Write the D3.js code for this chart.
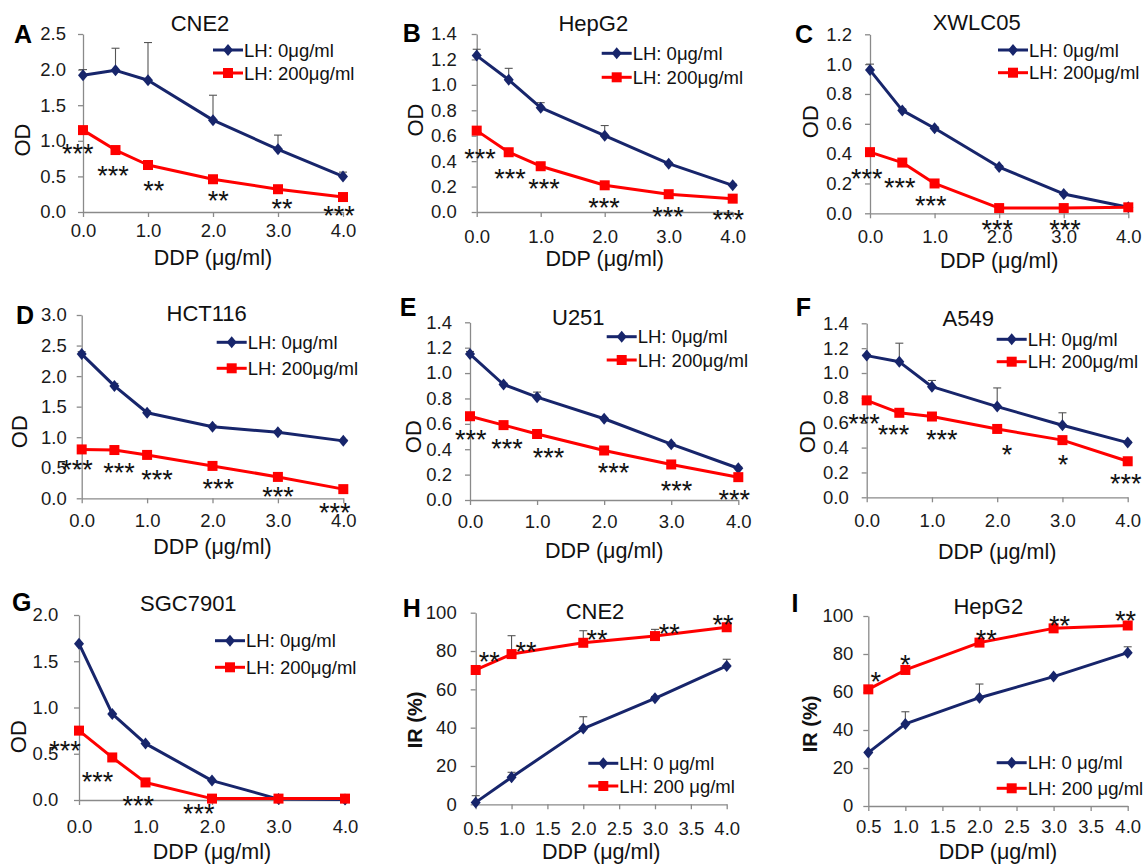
<!DOCTYPE html>
<html>
<head>
<meta charset="utf-8">
<script src="https://cdn.jsdelivr.net/npm/d3@7"></script>
<style>
  body { margin: 0; background: #fff; }
  svg { display: block; font-family: "Liberation Sans", Arial, sans-serif; }
</style>
</head>
<body>
<svg id="chart" width="1145" height="866"></svg>
<script>
// ---- data ----
const doseOD = [0, 0.5, 1, 2, 3, 4];
const doseIR = [0.5, 1, 2, 3, 4];

// A: CNE2 (OD)
const cne2Lh0 = [1.92, 1.99, 1.85, 1.29, 0.88, 0.50];
const cne2Lh0Err = [0.08, 0.31, 0.53, 0.35, 0.20, 0.06];
const cne2Lh200 = [1.15, 0.87, 0.66, 0.46, 0.32, 0.21];
const cne2Stars = ["***", "***", "**", "**", "**", "***"];
const cne2StarX = [-0.08, 0.46, 1.09, 2.08, 3.06, 3.94];
const cne2StarY = [0.91, 0.59, 0.39, 0.24, 0.13, 0.03];

// B: HepG2 (OD)
const hepg2Lh0 = [1.23, 1.04, 0.82, 0.60, 0.38, 0.21];
const hepg2Lh0Err = [0.05, 0.09, 0.04, 0.08, 0.01, 0.01];
const hepg2Lh200 = [0.64, 0.47, 0.36, 0.21, 0.14, 0.105];
const hepg2Stars = ["***", "***", "***", "***", "***", "***"];
const hepg2StarX = [0.05, 0.52, 1.05, 1.99, 2.99, 3.93];
const hepg2StarY = [0.47, 0.31, 0.23, 0.08, 0.01, -0.01];

// C: XWLC05 (OD)
const xwlcLh0 = [0.96, 0.69, 0.57, 0.31, 0.13, 0.04];
const xwlcLh0Err = [0.04, 0.01, 0.01, 0.01, 0.01, 0];
const xwlcLh200 = [0.41, 0.34, 0.20, 0.035, 0.035, 0.04];
const xwlcStars = ["***", "***", "***", "***", "***"];
const xwlcStarX = [-0.05, 0.46, 0.94, 1.97, 3.02];
const xwlcStarY = [0.27, 0.21, 0.09, -0.07, -0.07];

// D: HCT116 (OD)
const hctLh0 = [2.36, 1.84, 1.40, 1.17, 1.08, 0.94];
const hctLh0Err = [0.04, 0.04, 0.03, 0.03, 0.03, 0.02];
const hctLh200 = [0.80, 0.79, 0.71, 0.53, 0.35, 0.15];
const hctStars = ["***", "***", "***", "***", "***", "***"];
const hctStarX = [-0.07, 0.57, 1.15, 2.09, 3.0, 3.87];
const hctStarY = [0.57, 0.52, 0.41, 0.26, 0.12, -0.13];

// E: U251 (OD)
const u251Lh0 = [1.15, 0.91, 0.81, 0.64, 0.44, 0.25];
const u251Lh0Err = [0.02, 0.01, 0.04, 0.01, 0.01, 0.01];
const u251Lh200 = [0.66, 0.59, 0.52, 0.39, 0.28, 0.18];
const u251Stars = ["***", "***", "***", "***", "***", "***"];
const u251StarX = [0.01, 0.55, 1.17, 2.14, 3.08, 3.94];
const u251StarY = [0.52, 0.45, 0.38, 0.26, 0.12, 0.05];

// F: A549 (OD)
const a549Lh0 = [1.14, 1.09, 0.89, 0.73, 0.58, 0.44];
const a549Lh0Err = [0.01, 0.15, 0.05, 0.15, 0.10, 0.01];
const a549Lh200 = [0.78, 0.68, 0.65, 0.55, 0.46, 0.29];
const a549Stars = ["***", "***", "***", "*", "*", "***"];
const a549StarX = [-0.04, 0.41, 1.15, 2.15, 3.01, 3.97];
const a549StarY = [0.64, 0.55, 0.51, 0.39, 0.31, 0.16];

// G: SGC7901 (OD)
const sgcLh0 = [1.69, 0.93, 0.61, 0.21, 0.01, 0.005];
const sgcLh0Err = [0, 0, 0, 0, 0, 0];
const sgcLh200 = [0.75, 0.46, 0.19, 0.015, 0.015, 0.015];
const sgcStars = ["***", "***", "***", "***"];
const sgcStarX = [-0.21, 0.28, 0.89, 1.80];
const sgcStarY = [0.60, 0.26, 0.0, -0.08];

// H: CNE2 (IR %)
const cne2IrLh0 = [1.0, 14.1, 39.5, 55.3, 72.2];
const cne2IrLh0Err = [3.5, 2.6, 6.2, 1.0, 3.5];
const cne2IrLh200 = [70.1, 78.4, 84.3, 87.8, 92.4];
const cne2IrLh200Err = [0.5, 9.6, 6.3, 3.5, 1.0];
const cne2IrStars = ["**", "**", "**", "**", "**"];
const cne2IrStarX = [0.69, 1.20, 2.19, 3.20, 3.95];
const cne2IrStarY = [77.4, 82.6, 88.9, 92.4, 97.1];

// I: HepG2 (IR %)
const hepg2IrLh0 = [28.1, 43.2, 57.0, 68.1, 80.7];
const hepg2IrLh0Err = [0.5, 6.4, 7.2, 0.5, 3.1];
const hepg2IrLh200 = [61.4, 71.6, 86.0, 93.5, 95.0];
const hepg2IrLh200Err = [0.5, 0.5, 0.5, 0.5, 0.5];
const hepg2IrStars = ["*", "*", "**", "**", "**"];
const hepg2IrStarX = [0.60, 1.0, 2.09, 3.08, 3.97];
const hepg2IrStarY = [68.4, 77.7, 90.9, 97.9, 100.5];

const legendOD = ["LH: 0μg/ml", "LH: 200μg/ml"];
const legendIR = ["LH: 0 μg/ml", "LH: 200 μg/ml"];

// ---- panel setup: data + frame (pixel layout) ----
const BLUE = "#17256b", RED = "#ff0000";
const fmt1 = d3.format(".1f"), fmt0 = d3.format("d");

const panels = [
  { letter: "A", title: "CNE2", xs: doseOD, lh0: cne2Lh0, lh0Err: cne2Lh0Err, lh200: cne2Lh200,
    stars: cne2Stars, starX: cne2StarX, starY: cne2StarY, yMax: 2.5, yStep: 0.5, ir: false,
    f: { left: 83, right: 343, top: 34, bottom: 212, yGap: 17, xLab: 230, xTitle: 257,
         yTitle: [22, 140], letterAt: [23, 34], titleAt: [200, 23], leg: [213, 50, 73] } },
  { letter: "B", title: "HepG2", xs: doseOD, lh0: hepg2Lh0, lh0Err: hepg2Lh0Err, lh200: hepg2Lh200,
    stars: hepg2Stars, starX: hepg2StarX, starY: hepg2StarY, yMax: 1.4, yStep: 0.2, ir: false,
    f: { left: 476.7, right: 732.7, top: 34, bottom: 212, yGap: 20, xLab: 236.7, xTitle: 258.3,
         yTitle: [415, 120], letterAt: [411.7, 33.3], titleAt: [593.3, 22.7], leg: [601.7, 53.3, 77.3] } },
  { letter: "C", title: "XWLC05", xs: doseOD, lh0: xwlcLh0, lh0Err: xwlcLh0Err, lh200: xwlcLh200,
    stars: xwlcStars, starX: xwlcStarX, starY: xwlcStarY, yMax: 1.2, yStep: 0.2, ir: false,
    f: { left: 870, right: 1128.3, top: 34.3, bottom: 213.3, yGap: 18, xLab: 236.7, xTitle: 260,
         yTitle: [810, 121.7], letterAt: [804, 34], titleAt: [976.7, 21.7], leg: [998, 50, 72.7] } },
  { letter: "D", title: "HCT116", xs: doseOD, lh0: hctLh0, lh0Err: hctLh0Err, lh200: hctLh200,
    stars: hctStars, starX: hctStarX, starY: hctStarY, yMax: 3.0, yStep: 0.5, ir: false,
    f: { left: 81.7, right: 343.3, top: 315, bottom: 498.3, yGap: 15, xLab: 520, xTitle: 546.7,
         yTitle: [19, 431.7], letterAt: [25, 315], titleAt: [206.7, 312.7], leg: [216.7, 342.3, 368.3] } },
  { letter: "E", title: "U251", xs: doseOD, lh0: u251Lh0, lh0Err: u251Lh0Err, lh200: u251Lh200,
    stars: u251Stars, starX: u251StarX, starY: u251StarY, yMax: 1.4, yStep: 0.2, ir: false,
    f: { left: 470, right: 738.3, top: 322.3, bottom: 500, yGap: 18, xLab: 521.7, xTitle: 550,
         yTitle: [413.3, 436.7], letterAt: [408, 306.7], titleAt: [578.3, 316.7], leg: [606.7, 336.7, 360] } },
  { letter: "F", title: "A549", xs: doseOD, lh0: a549Lh0, lh0Err: a549Lh0Err, lh200: a549Lh200,
    stars: a549Stars, starX: a549StarX, starY: a549StarY, yMax: 1.4, yStep: 0.2, ir: false,
    f: { left: 866.7, right: 1127.7, top: 323.3, bottom: 497.3, yGap: 18, xLab: 520, xTitle: 551.7,
         yTitle: [806.7, 436.7], letterAt: [803.3, 306.7], titleAt: [968.3, 318.3], leg: [996.7, 339.3, 361.7] } },
  { letter: "G", title: "SGC7901", xs: doseOD, lh0: sgcLh0, lh0Err: sgcLh0Err, lh200: sgcLh200,
    stars: sgcStars, starX: sgcStarX, starY: sgcStarY, yMax: 2.0, yStep: 0.5, ir: false,
    f: { left: 79, right: 345, top: 615, bottom: 800, yGap: 20.7, xLab: 826.7, xTitle: 851.5,
         yTitle: [18.3, 736.7], letterAt: [21.7, 601.7], titleAt: [188.3, 603.3], leg: [215, 640.7, 667.3] } },
  { letter: "H", title: "CNE2", xs: doseIR, lh0: cne2IrLh0, lh0Err: cne2IrLh0Err, lh200: cne2IrLh200, lh200Err: cne2IrLh200Err,
    stars: cne2IrStars, starX: cne2IrStarX, starY: cne2IrStarY, yMax: 100, yStep: 20, ir: true,
    f: { left: 475.7, right: 726.7, top: 612.7, bottom: 804.3, yGap: 19, xLab: 828.3, xTitle: 851.5,
         yTitle: [415, 720], letterAt: [411.7, 608.3], titleAt: [595, 611], leg: [588.3, 763.3, 786] } },
  { letter: "I", title: "HepG2", xs: doseIR, lh0: hepg2IrLh0, lh0Err: hepg2IrLh0Err, lh200: hepg2IrLh200, lh200Err: hepg2IrLh200Err,
    stars: hepg2IrStars, starX: hepg2IrStarX, starY: hepg2IrStarY, yMax: 100, yStep: 20, ir: true,
    f: { left: 868.3, right: 1127.7, top: 616, bottom: 806, yGap: 15, xLab: 826.7, xTitle: 851.5,
         yTitle: [810, 724], letterAt: [795, 603.3], titleAt: [988.3, 606], leg: [996.7, 762.7, 788.3] } }
];

const svg = d3.select("#chart");
const TICK_FS = 18.5;
const diamond = "M0,-6L5,0L0,6L-5,0Z";

function styleAxis(sel) {
  sel.attr("font-family", null).attr("font-size", null);
  sel.select(".domain").attr("stroke", "#8a8a8a").attr("stroke-width", 1.3);
  sel.selectAll(".tick line").attr("stroke", "#8a8a8a").attr("stroke-width", 1.3);
  sel.selectAll(".tick text").attr("fill", "#1a1a1a").style("font-size", TICK_FS + "px");
}

function drawMarker(g, type, cx, cy, color) {
  if (type === "diamond") {
    g.append("path").attr("d", diamond).attr("transform", `translate(${cx},${cy})`).attr("fill", color);
  } else {
    g.append("rect").attr("x", cx - 5).attr("y", cy - 5).attr("width", 10).attr("height", 10).attr("fill", color);
  }
}

function drawPanel(p) {
  const f = p.f;
  const g = svg.append("g").attr("class", "panel panel-" + p.letter);
  const x = d3.scaleLinear().domain(p.ir ? [0.5, 4] : [0, 4]).range([f.left, f.right]);
  const y = d3.scaleLinear().domain([0, p.yMax]).range([f.bottom, f.top]);

  const yAxis = d3.axisLeft(y)
    .tickValues(d3.range(0, p.yMax + 1e-9, p.yStep))
    .tickFormat(p.ir ? fmt0 : fmt1)
    .tickSize(5).tickSizeOuter(0).tickPadding(f.yGap - 5);
  g.append("g").attr("transform", `translate(${f.left},0)`).call(yAxis).call(styleAxis);

  const xAxis = d3.axisBottom(x)
    .tickValues(p.ir ? d3.range(0.5, 4.01, 0.5) : [0, 1, 2, 3, 4])
    .tickFormat(fmt1)
    .tickSize(5).tickSizeOuter(0).tickPadding(f.xLab - f.bottom - 5 - 6.5);
  g.append("g").attr("transform", `translate(0,${f.bottom})`).call(xAxis).call(styleAxis);

  // titles and labels
  g.append("text").attr("x", f.titleAt[0]).attr("y", f.titleAt[1]).attr("dy", "0.36em")
    .attr("text-anchor", "middle").style("font-size", "22px").attr("fill", "#111").text(p.title);
  g.append("text").attr("x", f.letterAt[0]).attr("y", f.letterAt[1]).attr("dy", "0.36em")
    .attr("text-anchor", "middle").style("font-size", "25px").style("font-weight", "bold").attr("fill", "#000").text(p.letter);
  g.append("text").attr("x", (f.left + f.right) / 2).attr("y", f.xTitle).attr("dy", "0.36em")
    .attr("text-anchor", "middle").style("font-size", "21.5px").attr("fill", "#111").text("DDP (μg/ml)");
  g.append("text").attr("transform", `translate(${f.yTitle[0]},${f.yTitle[1]}) rotate(-90)`).attr("dy", "0.36em")
    .attr("text-anchor", "middle").style("font-size", p.ir ? "20px" : "22px")
    .style("font-weight", p.ir ? "bold" : "normal").attr("fill", "#111").text(p.ir ? "IR (%)" : "OD");

  const series = [
    { vals: p.lh0, err: p.lh0Err, color: BLUE, marker: "diamond" },
    { vals: p.lh200, err: p.lh200Err, color: RED, marker: "square" }
  ];

  // error bars (upper only)
  series.forEach(s => {
    if (!s.err) return;
    s.err.forEach((e, i) => {
      if (e < 0.004 * p.yMax) return;
      const cx = x(p.xs[i]), top = y(s.vals[i] + e);
      g.append("line").attr("x1", cx).attr("x2", cx).attr("y1", y(s.vals[i])).attr("y2", top)
        .attr("stroke", "#555").attr("stroke-width", 1.1);
      g.append("line").attr("x1", cx - 4).attr("x2", cx + 4).attr("y1", top).attr("y2", top)
        .attr("stroke", "#555").attr("stroke-width", 1.1);
    });
  });

  const line = d3.line().x((d, i) => x(p.xs[i])).y(d => y(d));
  series.forEach(s => {
    g.append("path").datum(s.vals).attr("d", line).attr("fill", "none")
      .attr("stroke", s.color).attr("stroke-width", 3).attr("stroke-linejoin", "round");
    s.vals.forEach((v, i) => drawMarker(g, s.marker, x(p.xs[i]), y(v), s.color));
  });

  // significance stars
  g.selectAll("text.star").data(p.stars).join("text").attr("class", "star")
    .attr("x", (d, i) => x(p.starX[i])).attr("y", (d, i) => y(p.starY[i])).attr("dy", "0.57em")
    .attr("text-anchor", "middle").style("font-size", "27px").attr("fill", "#111").text(d => d);

  // legend
  const labels = p.ir ? legendIR : legendOD;
  [f.leg[1], f.leg[2]].forEach((ly, k) => {
    const lx = f.leg[0];
    g.append("line").attr("x1", lx).attr("x2", lx + 30).attr("y1", ly).attr("y2", ly)
      .attr("stroke", series[k].color).attr("stroke-width", 3);
    drawMarker(g, series[k].marker, lx + 15, ly, series[k].color);
    g.append("text").attr("x", lx + 31).attr("y", ly).attr("dy", "0.36em")
      .style("font-size", "18.5px").attr("fill", "#111").text(labels[k]);
  });
}

panels.forEach(drawPanel);
</script>
</body>
</html>
